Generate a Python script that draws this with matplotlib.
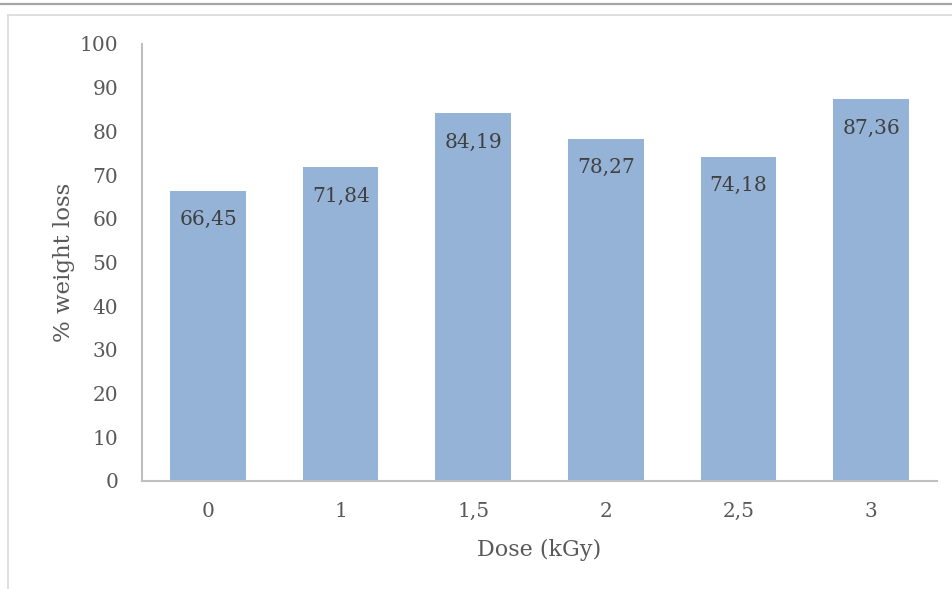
import matplotlib
matplotlib.use("Agg")
import matplotlib.pyplot as plt
from matplotlib.lines import Line2D

categories = ["0", "1", "1,5", "2", "2,5", "3"]
values = [66.45, 71.84, 84.19, 78.27, 74.18, 87.36]
labels = ["66,45", "71,84", "84,19", "78,27", "74,18", "87,36"]
yticks = [0, 10, 20, 30, 40, 50, 60, 70, 80, 90, 100]

plt.rcParams['font.family'] = ['DejaVu Serif']
txt = '#595959'

fig = plt.figure(figsize=(9.52, 5.89), dpi=100)
ax = fig.add_axes([0.1489, 0.1834, 0.8357, 0.7419])

x = list(range(len(categories)))
bars = ax.bar(x, values, width=0.57, color='#95B3D7', zorder=2)
for xi, v, lab in zip(x, values, labels):
    ax.annotate(lab, (xi, v), xytext=(0, -14), textcoords='offset points',
                ha='center', va='top', fontsize=14.5, color='#404040')

ax.set_xlim(-0.5, len(categories) - 0.5)
ax.set_ylim(0, 100)
ax.set_yticks(yticks)
ax.set_yticklabels([str(t) for t in yticks])
ax.set_xticks(x)
ax.set_xticklabels(categories)
ax.tick_params(axis='both', length=0, labelsize=14.5, labelcolor=txt)
ax.tick_params(axis='y', pad=17)
ax.tick_params(axis='x', pad=15)
for s in ['top', 'right']:
    ax.spines[s].set_visible(False)
for s in ['left', 'bottom']:
    ax.spines[s].set_color('#BFBFBF')
    ax.spines[s].set_linewidth(1.5)

ax.set_xlabel('Dose (kGy)', fontsize=16, color=txt, labelpad=13)
ax.set_ylabel('% weight loss', fontsize=16.5, color=txt, labelpad=3)

# page / chart-area border
W, H = 952, 589
fig.add_artist(Line2D([0, 1], [1 - 3.5 / H, 1 - 3.5 / H], transform=fig.transFigure,
                      color='#A6A6A6', lw=1.6))
fig.add_artist(Line2D([8 / W, 1], [1 - 14.5 / H, 1 - 14.5 / H], transform=fig.transFigure,
                      color='#D9D9D9', lw=1.2))
fig.add_artist(Line2D([8 / W, 8 / W], [0, 1 - 14.5 / H], transform=fig.transFigure,
                      color='#D9D9D9', lw=1.2))

fig.savefig('out.png', dpi=100)
